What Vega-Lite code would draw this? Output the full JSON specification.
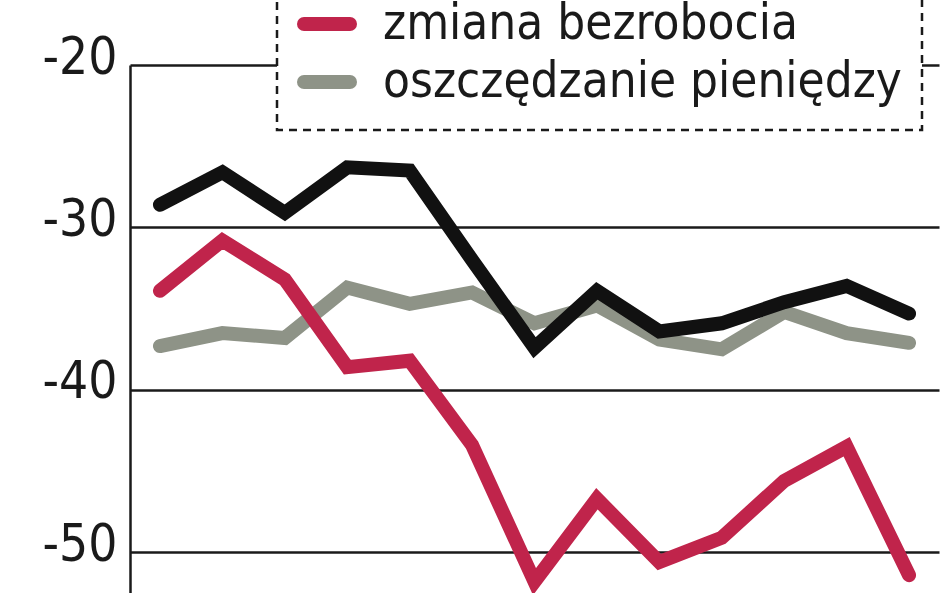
{
  "$schema": "https://vega.github.io/schema/vega-lite/v6.json",
  "width": 809,
  "height": 528,
  "autosize": {"type": "none"},
  "padding": {"left": 130, "top": 65, "right": 9, "bottom": 0},
  "background": "white",
  "config": {
    "view": {"stroke": null},
    "font": "DejaVu Sans Condensed"
  },
  "data": {
    "values": [
      {"m": 1, "series": "wskaźnik ogólny", "v": -28.6},
      {"m": 2, "series": "wskaźnik ogólny", "v": -26.6},
      {"m": 3, "series": "wskaźnik ogólny", "v": -29.1},
      {"m": 4, "series": "wskaźnik ogólny", "v": -26.3},
      {"m": 5, "series": "wskaźnik ogólny", "v": -26.5},
      {"m": 6, "series": "wskaźnik ogólny", "v": -32.0},
      {"m": 7, "series": "wskaźnik ogólny", "v": -37.4},
      {"m": 8, "series": "wskaźnik ogólny", "v": -33.9},
      {"m": 9, "series": "wskaźnik ogólny", "v": -36.4},
      {"m": 10, "series": "wskaźnik ogólny", "v": -35.9},
      {"m": 11, "series": "wskaźnik ogólny", "v": -34.6},
      {"m": 12, "series": "wskaźnik ogólny", "v": -33.6},
      {"m": 13, "series": "wskaźnik ogólny", "v": -35.3},
      {"m": 1, "series": "zmiana bezrobocia", "v": -33.9},
      {"m": 2, "series": "zmiana bezrobocia", "v": -30.8},
      {"m": 3, "series": "zmiana bezrobocia", "v": -33.2},
      {"m": 4, "series": "zmiana bezrobocia", "v": -38.6},
      {"m": 5, "series": "zmiana bezrobocia", "v": -38.2},
      {"m": 6, "series": "zmiana bezrobocia", "v": -43.4},
      {"m": 7, "series": "zmiana bezrobocia", "v": -51.8},
      {"m": 8, "series": "zmiana bezrobocia", "v": -46.7},
      {"m": 9, "series": "zmiana bezrobocia", "v": -50.6},
      {"m": 10, "series": "zmiana bezrobocia", "v": -49.1},
      {"m": 11, "series": "zmiana bezrobocia", "v": -45.6},
      {"m": 12, "series": "zmiana bezrobocia", "v": -43.5},
      {"m": 13, "series": "zmiana bezrobocia", "v": -51.4},
      {"m": 1, "series": "oszczędzanie pieniędzy", "v": -37.3},
      {"m": 2, "series": "oszczędzanie pieniędzy", "v": -36.5},
      {"m": 3, "series": "oszczędzanie pieniędzy", "v": -36.8},
      {"m": 4, "series": "oszczędzanie pieniędzy", "v": -33.7},
      {"m": 5, "series": "oszczędzanie pieniędzy", "v": -34.7},
      {"m": 6, "series": "oszczędzanie pieniędzy", "v": -34.0},
      {"m": 7, "series": "oszczędzanie pieniędzy", "v": -35.9},
      {"m": 8, "series": "oszczędzanie pieniędzy", "v": -34.8},
      {"m": 9, "series": "oszczędzanie pieniędzy", "v": -36.9},
      {"m": 10, "series": "oszczędzanie pieniędzy", "v": -37.5},
      {"m": 11, "series": "oszczędzanie pieniędzy", "v": -35.2},
      {"m": 12, "series": "oszczędzanie pieniędzy", "v": -36.5},
      {"m": 13, "series": "oszczędzanie pieniędzy", "v": -37.1}
    ]
  },
  "encoding": {
    "x": {"field": "m", "type": "quantitative", "scale": {"domain": [0.52, 13.48]}, "axis": null},
    "y": {
      "field": "v", "type": "quantitative",
      "scale": {"domain": [-52.5, -20], "nice": false},
      "axis": {
        "title": null, "values": [-20, -30, -40, -50],
        "labelExpr": "toString(datum.value)",
        "domain": true, "domainColor": "#1a1a1a", "domainWidth": 2.5,
        "grid": true, "gridColor": "#1a1a1a", "gridWidth": 2.5, "gridOpacity": 1,
        "ticks": false, "labelFontSize": 51, "labelColor": "#1a1a1a",
        "labelPadding": 13, "labelOffset": -7, "labelFont": "DejaVu Sans Condensed"
      }
    },
    "color": {
      "field": "series", "type": "nominal",
      "scale": {
        "domain": ["wskaźnik ogólny", "zmiana bezrobocia", "oszczędzanie pieniędzy"],
        "range": ["#111111", "#c0244b", "#8e9387"]
      },
      "legend": {
        "title": null, "orient": "none", "legendX": 147, "legendY": -149,
        "symbolType": "stroke", "symbolSize": 2116, "symbolStrokeWidth": 14,
        "labelFontSize": 49, "labelFont": "DejaVu Sans Condensed", "labelColor": "#1a1a1a",
        "labelOffset": 26, "rowPadding": 0, "padding": 20,
        "fillColor": "white", "strokeColor": "#1a1a1a",
        "labelLimit": 800,
        "encode": {
          "legend": {"update": {"strokeDash": {"value": [8, 6]}, "strokeWidth": {"value": 2.5}}},
          "symbols": {"update": {"strokeCap": {"value": "round"}}}
        }
      }
    }
  },
  "layer": [
    {
      "transform": [{"filter": "datum.series === 'oszczędzanie pieniędzy'"}],
      "mark": {"type": "line", "strokeWidth": 14, "strokeCap": "round", "strokeJoin": "miter"}
    },
    {
      "transform": [{"filter": "datum.series === 'zmiana bezrobocia'"}],
      "mark": {"type": "line", "strokeWidth": 14, "strokeCap": "round", "strokeJoin": "miter"}
    },
    {
      "transform": [{"filter": "datum.series === 'wskaźnik ogólny'"}],
      "mark": {"type": "line", "strokeWidth": 14, "strokeCap": "round", "strokeJoin": "miter"}
    }
  ]
}
